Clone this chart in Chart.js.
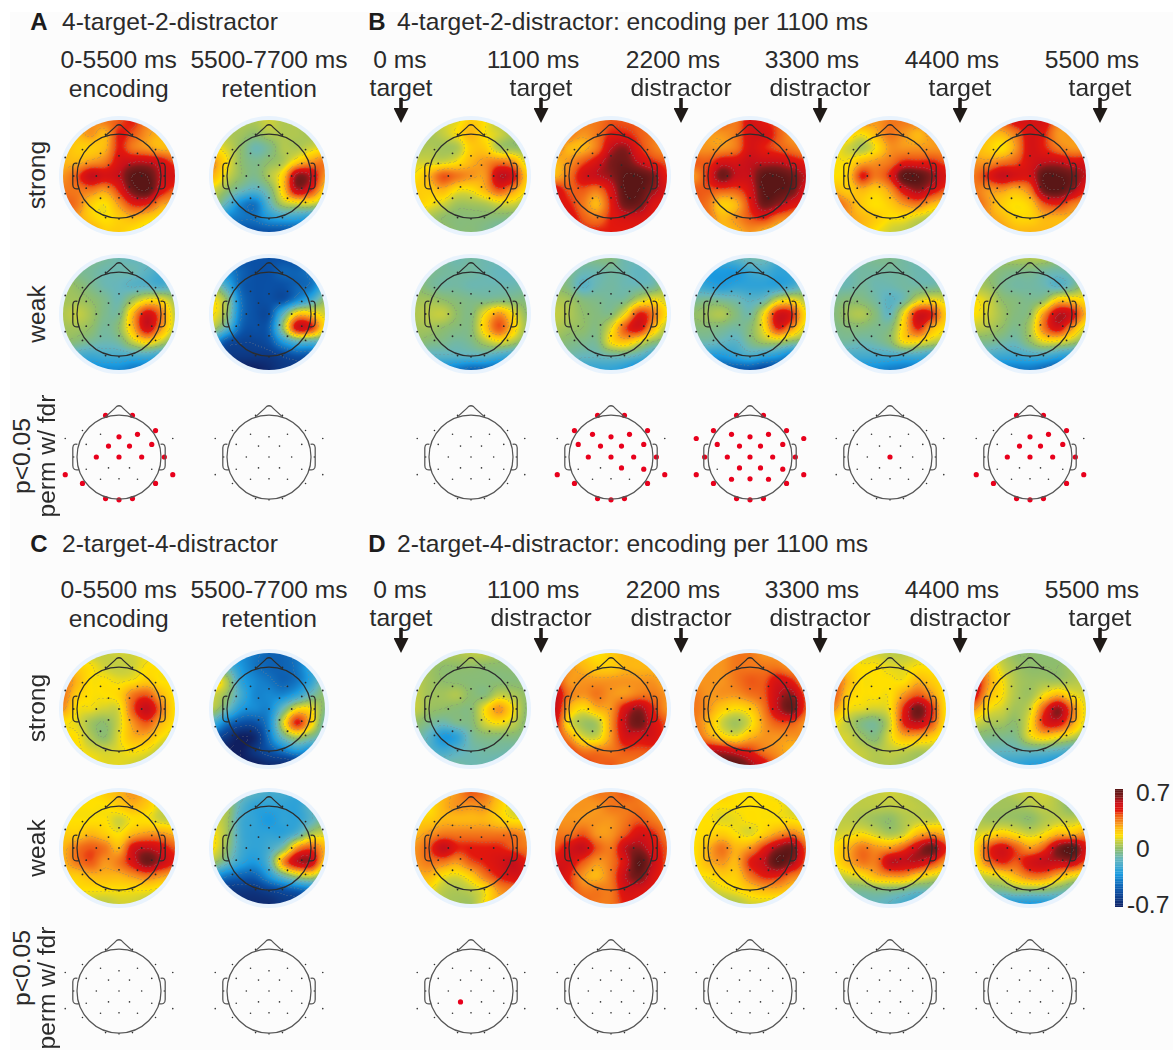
<!DOCTYPE html>
<html>
<head>
<meta charset="utf-8">
<title>topomaps</title>
<script src="https://cdn.jsdelivr.net/npm/chart.js@4"></script>
<style>
  html, body { margin: 0; padding: 0; background: #fff; }
  #page { position: absolute; left: 0; top: 0; width: 1173px; height: 1050px; overflow: hidden; background: #fff; }
  #paper { position: absolute; left: 10px; top: 12px; width: 1163px; height: 1038px; background: #fcfcfc; }
  #page canvas { position: absolute; }
  .t { position: absolute; white-space: nowrap; font-family: "Liberation Sans", Arial, sans-serif; font-size: 24.6px; color: #2a2a2a; transform: translate(-50%, -50%); }
  .l { transform: translate(0, -50%); }
  .b { font-weight: bold; font-size: 24px; color: #1c1c1c; }
  .r { transform: translate(-50%, -50%) rotate(-90deg); }
  .arrow { position: absolute; width: 15px; height: 25px; background: #1f1a17; clip-path: polygon(38% 0, 62% 0, 62% 40%, 100% 40%, 50% 100%, 0 40%, 38% 40%); }
</style>
</head>
<body>
<div id="page"><div id="paper"></div></div>
<script>
// values are in tenths of the colour bar unit (7 = 0.7), 9 rows x 9 columns, front of head first
const gridTicks = [-4/3, -1, -2/3, -1/3, 0, 1/3, 2/3, 1, 4/3];

const aStrongEnc = [
  3,3,3,3.5,4,4.5,3.5,3,3,
  2.5,2.5,3,2.5,4.5,4,3,2.5,2.5,
  2.5,2,2,2.5,4.5,3.5,3,2.5,2.5,
  2.5,2.5,3,3.5,5,5.5,5.5,5,4,
  3,4,5.5,5,5.5,7,7,5.5,5,
  3.5,3.5,3.5,3,4.5,6.5,7,5,4,
  4,3.5,2,1.5,3,4.5,4.5,3,2.5,
  4,3,2,1.5,2,2.5,2,1.5,1,
  4,3.5,3,2,2,1.5,1,.5,.5];
const aStrongRet = [
  .5,.5,.5,.5,1,.5,.5,.3,0,
  1,.5,.3,0,.5,.5,.5,.3,.3,
  1.5,1,0,-1,-.5,.5,.5,1,1.5,
  3,1.5,0,-.5,0,.5,2,3,3.5,
  2.5,1,0,-.5,.5,2,6,5.5,3,
  1,0,-1,-1.5,-.5,2,5.5,4.5,2,
  0,-1.5,-3.5,-4,-1.5,.5,1,1,0,
  -2,-3.5,-4,-4,-3,-2.5,-2.5,-3,-3.5,
  -4,-4.5,-5,-5,-5,-5,-5,-5,-5];
const aWeakEnc = [
  -.5,-.5,-.5,-.7,-1,-1.2,-1,-1,-1,
  0,-.5,-.7,-1,-1,-1,-1.5,-2,-1.5,
  .3,0,-.5,-1,-1.2,-1.5,-1.5,-1.8,-1.2,
  .3,.3,0,-.5,-1,.3,1.5,1.5,.3,
  .5,.8,.3,-.5,-.5,2.5,5,3.5,.8,
  .3,.3,0,-.7,0,2.5,5.2,3,.8,
  0,-.3,-.7,-1,-.7,.8,1.8,.8,-.5,
  -1.5,-2,-2.2,-2,-2,-2,-2,-2.5,-3,
  -3,-3.5,-3.5,-3.5,-3.5,-4,-4,-4,-4];
const aWeakRet = [
  -4,-4.5,-5,-5,-5,-5,-5,-4.5,-4,
  -3,-3.5,-4.5,-5,-5,-4.5,-4.5,-4,-3,
  0,-2,-4.5,-5,-5,-5,-4.5,-4,-2,
  1.5,0,-4,-5,-5,-5,-3.5,-2,0,
  1.5,0,-4,-5,-5,-1.5,2,2,1,
  .5,-1.5,-4.5,-5,-4.5,0,5,4.5,1.5,
  -3,-5,-5.5,-5.5,-5,-3,-1.5,-1.5,-1.5,
  -6,-6,-6,-6,-6,-5.5,-5,-5,-4.5,
  -7,-7,-7,-7,-6.5,-6,-6,-5.5,-5];

const bStrong0 = [
  0,.5,1,1.2,2,1.5,.5,.5,.3,
  0,.3,.8,1.5,2.5,1.5,1,.3,0,
  .3,.5,.3,.5,2,2,.5,.2,0,
  1,1,1,1.5,2.5,3,3.5,3,1,
  1.5,2.5,4,3.5,3,3,5.5,5,2,
  2,2,2.5,1.5,1.5,2.5,4,3,1.5,
  2,1.5,1,.3,.3,.5,1,1,.3,
  1.5,.5,0,-.2,-.2,-.2,-.3,-.5,-1,
  1,.5,.2,-.2,-.2,-.5,-1,-1.5,-2];
const bStrong1 = [
  3.5,3.5,3.5,3.5,4,4,4,3.5,3.5,
  4,3.5,3,3.5,4.5,4.5,4,3.5,3,
  3.5,2.5,2.5,3.5,5.5,6,4.5,3.5,3,
  2.5,3,4,5,6.2,6.5,5.5,4.5,4,
  2.5,3.5,5,5.5,6,7,7,6.3,4.5,
  5,4,4,3.5,5,7,7,6,5,
  5,4.5,3.5,2.5,4.5,6.5,6.5,5,4.5,
  5,5,4,3.5,4.5,5,5,4.5,4,
  5,5,4.5,4.5,4.5,4.5,4.5,4,4];
const bStrong2 = [
  4,4,4,3.5,5,4.5,4,3.5,3.5,
  3.5,3,3,3.5,5,5,4,3,3,
  3,3,3,3.5,5,4.5,4,3.5,3,
  4,4,5,5,5.5,5.5,5.5,5,4.5,
  3,4.5,6.5,5.5,5.5,7,7,6.5,5.5,
  4,4,4,4,5,7,7,6.5,5,
  4,3.5,2,2.5,4.5,6.5,6,5,4.5,
  4,3.5,2.5,3,4,4.5,3.5,3,2.5,
  3.5,3,2.5,2.5,3,2.5,2,1.5,1];
const bStrong3 = [
  3,3,3.5,3,3.5,3.5,3.5,3.5,3,
  2,2,1.5,2.5,3.5,3,2.5,3,3,
  1.5,1,.5,1.5,3,3,3,3,3,
  1.5,1.5,2.5,3,3.5,4.5,4.5,4.5,4,
  1.5,2,4.5,3.5,4.5,7,7,6,5,
  2.5,2,2.5,2,3,5,6,5,4,
  4,3,2,1.5,2,3,3.5,2.5,2,
  4,3,2.5,2,1.5,1.5,1,.5,.3,
  3.5,3,2.5,1.5,1,.7,.3,0,-.3];
const bStrong4 = [
  3.5,3.5,4,5,5,5,3.5,3,3,
  3,2.5,2.5,3.5,5,4.5,3,3,3,
  2.5,2,1.5,3,5,4.5,3.5,3,3,
  3,3,3.5,4,5,5.5,5.5,5,5,
  3.5,4.5,5.5,5,5,7,7,6.5,5.5,
  3.5,3,3,2.5,3.5,6.5,7,6,4.5,
  4,3,2,1.5,2,4,4.5,3.5,3,
  4,3,2.5,1.8,1.8,2.5,2.5,2.5,2,
  3,3,3,2.5,2.5,2.5,2.5,2,2];

const bWeak0 = [
  -.5,-.5,-.7,-1,-.8,-1,-1,-1,-1,
  -.3,-.5,-.7,-.8,-.8,-1,-1.2,-1.2,-1,
  0,-.5,-.8,-.8,-1,-1,-1,-1,-.8,
  .3,.3,0,-.3,-.5,-.5,-.3,-.3,-.3,
  .5,.7,.8,0,-.3,1.5,3,1.5,0,
  .3,.3,0,-.3,-.2,2,4,2,.2,
  0,-.3,-.5,-.8,-.5,.5,1.2,.5,-.5,
  -1,-1.5,-1.5,-1.5,-1.5,-1.5,-2,-2.5,-3,
  -2.5,-3,-3.5,-4,-4.5,-4.5,-4.5,-4.5,-4];
const bWeak1 = [
  -.3,-.5,-.5,-.3,-.3,-1,-1,-1,-.8,
  0,-.5,-1,-1,-.8,-1,-1.3,-1,0,
  0,-.5,-1.5,-1,-.8,-1,-1,-.8,.3,
  .5,.3,-.3,-.5,-.7,-.5,.8,1.5,1,
  .8,.5,0,-.3,-.3,1.5,4.5,3.5,1.5,
  .5,.2,0,-.3,1.2,4,5,2.5,.5,
  0,-.3,-.5,-.5,1.5,2.2,1.2,0,-.5,
  -.8,-1,-1.2,-1.2,-1,-1,-1.5,-2.5,-3.5,
  -2,-2.5,-2.5,-2.5,-2.5,-3,-4,-4.5,-4.5];
const bWeak2 = [
  -1.5,-2,-2,-1.5,-1,-1,-2,-2.5,-2,
  -2.5,-3,-3,-3,-2.2,-2,-2.5,-2.5,-2,
  -2,-2.5,-2.8,-2.5,-2.5,-2.5,-2.5,-2,-1,
  -.7,-.5,-.7,-1,-1.5,-1,1,1.5,.5,
  0,.3,.5,-.3,-.8,1.5,5,4.5,1.5,
  -.3,-.3,-.5,-.8,-.2,1.5,4.5,3,1,
  -1,-1,-1.3,-1.5,-.5,.3,.5,-.2,-.5,
  -2.5,-3,-3,-2.5,-2,-2.5,-3,-4,-4.5,
  -5,-5,-5,-5,-5,-5.5,-5.5,-5.5,-5.5];
const bWeak3 = [
  -1,-1,-.7,-.5,-.5,-.8,-1,-1,-1,
  -1.3,-1,-.8,-.8,-.8,-.8,-1,-1,-1,
  -1,-1,-.7,-1,-1,-.8,-.8,-.8,-.5,
  -.5,-.2,-.3,-.8,-1.5,-.8,1,1.5,1,
  -.3,.3,.5,-.3,-1.2,1.5,5,4.5,2,
  -.5,-.3,-.3,-.5,-.3,2,4.5,2.5,1.5,
  -.8,-.8,-1,-.8,-.2,1.5,1.5,.8,.3,
  -1.5,-2,-2,-2,-2,-2,-2,-2.5,-3,
  -3,-3.5,-3.5,-3.5,-3.8,-4,-4,-4,-4];
const bWeak4 = [
  -.2,.2,.3,.5,.5,.5,0,-.3,-.5,
  .3,0,-.3,-.5,-.5,-.8,-1,-.8,-.5,
  .5,.2,-.5,-.8,-.8,-1,-1.5,-.8,.5,
  1.5,1,0,-.3,-.5,0,2,2,1.5,
  1.5,1,.3,-.3,0,3,5.5,5,2.5,
  .8,.5,0,-.5,.5,3.5,5,3,1,
  -.5,-.5,-.8,-1,0,1.2,1.2,.5,-.5,
  -1.5,-2,-2.2,-2.2,-2,-2,-2.5,-3,-3.5,
  -3.5,-4,-4,-4,-4,-4.5,-5,-5,-5];

const cStrongEnc = [
  1,1,.8,.8,1,1,1.3,1.3,1.2,
  3,2,1.5,1,.8,1,1.5,1.5,1.5,
  3.5,2.5,1.5,1.5,1.3,1.5,2,1.5,1.5,
  3.5,2,1.5,1.5,1.8,3.5,4,2.5,1.5,
  3,1.5,1.3,1,1.2,4,5.5,3.5,1.5,
  1.5,1.2,.3,0,1,3,4,2.5,1.5,
  1.5,1.5,.5,0,1.2,2.5,2.5,1.5,1,
  1.5,1.5,1.2,1,1.2,1.5,1.3,.7,.3,
  1.5,1.5,1.5,1.2,1.2,1,.7,.3,0];
const cStrongRet = [
  -3,-3.5,-3.5,-4,-4.5,-4.5,-4,-3,-2.5,
  -1,-1.5,-3,-4,-4.5,-4.5,-4,-2.5,-1.5,
  2,.5,-2.5,-3.5,-4,-4.5,-4,-2.5,-.5,
  1,0,-2,-3.5,-3.5,-3.5,-2.5,-1,0,
  .5,-1,-3,-3.5,-3.5,-1,1.5,1.5,-.3,
  -2,-4,-5,-5,-3.5,1,4.5,2,-1,
  -5,-6,-7,-6.5,-4,-1,.5,-.5,-1.5,
  -6.5,-7,-7,-6,-5,-4,-3,-3.5,-3,
  -7,-7,-7,-7,-6.5,-6.5,-6.5,-6,-5];
const cWeakEnc = [
  2,2,1.5,2,2.5,3,2.5,1.5,1,
  1.5,1.5,1.5,1.5,2,2.5,2,1,.5,
  1.5,1.5,1.5,1.5,1,1.5,1.5,1,.8,
  2,2,2.5,2,1.5,2.5,3,3,2.5,
  2.5,3.5,4,3.5,2.5,5,5.5,5,4,
  2.5,3.5,4,3,3.5,5,6.5,5.5,4.5,
  2,2,2.5,2.5,2.5,3,3.5,3,2.5,
  1,1.5,1.5,1.5,1.5,1.5,1.5,1.2,1,
  .5,.5,.8,.7,1,1,.7,.5,.3];
const cWeakRet = [
  -.5,-.8,-1,-1.5,-2,-2,-2.5,-2.5,-2,
  .5,.3,-1.5,-2.5,-2.5,-2.5,-2.5,-1.5,-.5,
  1,.3,-2,-2.5,-3,-2.5,-2.5,-1.5,-.3,
  1.5,.3,-2,-2.5,-2.5,-2.5,-1.5,.5,1,
  1.5,0,-2,-2.5,-2,-.5,3,4,2.5,
  .3,-1,-2.5,-3,-1.5,3,5.5,5.5,2,
  -3,-4,-4.5,-4.5,-3,-1,.5,1,-.5,
  -5.5,-6,-6,-6,-5.5,-5,-4.5,-4,-4,
  -6.5,-6.5,-6.5,-6.5,-6.5,-6,-6,-5.5,-5];

const dStrong0 = [
  .5,.5,.5,.5,.7,.7,.3,0,0,
  .7,.3,0,0,0,-.1,-.1,-.1,-.2,
  .7,.3,0,-.1,-.2,-.2,-.2,-.2,-.2,
  .8,.3,.3,.5,-.1,-.2,.8,.5,0,
  .8,.2,0,-.2,-.2,1.5,3,1.5,-.1,
  0,-.5,-1,-.5,-.3,1,1.5,.8,-.2,
  -.5,-1.5,-3,-2.5,-.8,-.3,-.3,-.3,-.5,
  -.5,-1.5,-2,-1.5,-1,-.8,-.8,-1,-1.2,
  -.5,-.7,-.8,-.8,-1,-1,-1.3,-1.5,-1.8];
const dStrong1 = [
  2.5,2.5,2,1.5,2,2.5,2.5,2.5,2.5,
  3.5,3,2.5,2,2,2.5,2.5,2.5,2.5,
  4.5,3,3,3,3,3,3,3,2.5,
  5.5,3.5,3,3.5,3,3,3.5,3.5,3,
  5.5,2.5,1.5,2.5,3,5,6,4.5,3,
  5,1.5,.3,.5,3,5.5,6.5,5,4,
  4.5,3,1.2,1,3,5,5,5,4,
  5,4.5,3.5,3.5,3.5,4,4,4,3.5,
  5,5,4.5,4,4,3.5,3.5,3.5,3];
const dStrong2 = [
  2.5,3,3,3.5,3.5,3,3,2.5,2.5,
  3,3,3,3.5,3.5,3.5,3.5,3,3,
  3,3,3,3.5,4,4,5,4.5,3,
  3.5,3,3,3,3.5,4,5.5,6,4,
  3.5,3,2,1.5,2,3.5,5.5,6.5,4,
  3.5,2.5,1,.3,1.2,3,4,4,3,
  4,3,2,1.5,2.5,3,3,3,3,
  5,5.5,5.5,5,4.5,3.5,3,2.5,2.5,
  5,6,7,7,6,5,3.5,3,2.5];
const dStrong3 = [
  1,1,1,1,.7,.7,1,1,1,
  3,2,1.5,1.5,1.2,1.2,1.5,1.5,2,
  4,2.5,1.5,1.5,1.5,1.5,2.5,2,1.5,
  4,2,1.5,1.5,1.5,3,4,3,1.5,
  3,1.5,1.2,1,1.5,4.5,6.5,4.5,1.5,
  1.5,.7,-.3,-.5,1,4.5,5.5,4,1.5,
  1,1,.2,-.2,1.2,2.5,2.5,2,1,
  1,1,.8,.5,.8,.8,.5,.5,.2,
  1,1,.8,.5,.5,.3,.2,0,-.2];
const dStrong4 = [
  1,.8,.5,0,0,-.1,0,.2,.3,
  4,2.5,1,.3,0,0,0,.3,.5,
  5.5,3,1.5,.5,.2,.3,.3,.5,.7,
  5,2.5,1.5,.5,.3,1.5,2.5,1.5,1,
  3,1.5,1,.3,1,4,6,3.5,1.2,
  1,.5,.3,0,1.5,4.5,5,3,1,
  -.2,-.4,-.5,-.4,1.2,2,1.5,.8,0,
  -1,-1.2,-1.3,-1.3,-1.2,-1.2,-1.5,-2,-2.5,
  -1.5,-2,-2.5,-2.5,-2.8,-3,-3.5,-3.5,-3];

const dWeak0 = [
  2,2,2.5,3,4,3.5,2.5,1.5,1,
  1.5,1.5,2.5,3,3,3,2,1,.7,
  2,2,2.5,2.5,2.5,2.5,2,1.5,1.5,
  2.5,3,3.5,3.5,3.5,3.5,3.5,3.5,3,
  3,4,5.5,4.5,4.5,4.5,4.5,4,3.5,
  3,3.5,3.5,3,4,4.5,5,5.5,4.5,
  2.5,2.5,1.5,1.2,2,3.5,4.5,5,5,
  2,1.5,.7,.5,.8,1.5,3,3.5,4,
  1.8,1.2,.5,.3,.3,1.5,2.5,2.5,3];
const dWeak1 = [
  3,3,3,3.5,3.5,4,3.5,3,3,
  3,3,3,3,3.5,3.5,3.5,3,2.5,
  3,3,3,3,3,3.5,4,3.5,3,
  3.5,3.5,4,3,3,4,5,4.5,3.5,
  4,5,5.5,4,3.5,5.5,6,5,4,
  5,5,4,3,3.5,5,7,5.5,4,
  5.5,4.5,3,2.5,3.5,5.5,6.5,5,4,
  5,4.5,3.5,3.5,3.5,5,5,4.5,4,
  4,4.5,4,3.5,3.5,4.5,4.5,3.5,3];
const dWeak2 = [
  1.5,1.5,2,1.5,1.5,1.5,1.2,.7,.3,
  1.5,1.5,1.5,1.5,1.5,1.5,1.5,1,.5,
  1.5,1.5,1.2,1.3,1.5,1.5,1.5,1.5,1.2,
  1.5,1.7,2,1.5,1.2,2,3,3.5,2.5,
  1.5,2.5,3.5,2.5,3,4.5,6,6.5,4,
  1.5,2.5,3,2.5,4.5,5.5,7,6,4,
  1.5,1.5,2,2,3.5,4.5,4.5,3.5,3,
  .7,.8,1.2,1.5,2,2.5,2.5,2,1.5,
  0,.2,.3,.5,1,1,.8,.5,.5];
const dWeak3 = [
  .8,.5,.7,.8,1,.8,.5,.3,.2,
  .8,.7,.7,.7,.7,.8,.7,.5,.3,
  .7,.7,.5,.2,0,.5,.8,.8,1,
  1,1.2,1.5,1,.5,1,2.5,3,2.5,
  1.5,2.5,3.5,3,3,4,5.5,6.5,4.5,
  1.5,2.5,3.5,3.5,5.5,5.5,5.5,4.5,3,
  .7,1,1.5,2.5,3,3,2,1.2,.7,
  -.5,-.5,-.5,-.3,-.3,-.5,-1,-1,-1.5,
  -1.2,-1.2,-1.2,-1.2,-1.5,-2,-2.5,-2.5,-2];
const dWeak4 = [
  .5,.5,.3,.7,1,1,.5,-.3,-.5,
  .3,.3,.3,.3,.5,.8,.5,-.2,-.3,
  .5,.3,.3,.2,0,.5,.8,.8,1,
  1,1.5,2,1.5,1,1.5,2.5,2.5,3,
  1.5,4,5,4,3,4,6.2,7,5,
  1.5,3.5,4.5,4,5,5.5,5.5,5.5,4,
  .7,1,1.5,2.5,3.5,3.5,2.5,1.5,1,
  -.3,-.5,-.5,0,0,0,-.5,-1,-1.5,
  -1.5,-2.5,-3,-3,-3,-3,-2.5,-2,-1.5];

// electrode positions, head radius = 1
const sensorX = [-.32,.32,-.87,.87,-.44,0,.44,-1.28,1.28,-.78,-.25,.25,.78,-1.08,-.54,0,.54,1.08,-.78,-.25,.25,.78,-1.28,1.28,-.44,0,.44,-.87,.87,-.32,0,.32];
const sensorY = [.99,.99,.63,.63,.54,.48,.54,.44,.44,.3,.26,.26,.3,0,0,0,0,0,-.29,-.26,-.26,-.29,-.42,-.42,-.53,-.52,-.53,-.63,-.63,-.99,-1.02,-.99];

// electrodes with p<0.05
const sigAEnc = [0,1,3,5,6,10,11,12,14,15,16,17,22,23,27,28,29,30,31];
const sigB1 = [0,1,2,3,4,5,6,9,10,11,12,14,15,16,17,20,21,22,23,27,28,29,30,31];
const sigB2 = [0,1,2,3,4,5,6,7,8,9,10,11,12,13,14,15,16,17,19,20,21,22,23,24,25,26,27,28,29,30,31];
const sigB3 = [15];
const sigB4 = [0,1,3,5,6,10,11,12,14,15,16,17,22,23,27,28,29,30,31];
const sigD0 = [19];

const barLabels = ['0.7', '0', '-0.7'];
const barStops = [-7,-5,-3,-1.2,0,1,1.5,2.5,3,4,4.5,5.5,6.2,7];
const barColors = ['#101f60','#0a50a5','#1b9be0','#66b6bd','#8fbd6a','#cfd138','#ffe000','#fdb712','#f7941d','#ee5a16','#e3170d','#c8101a','#7d1a1a','#5a1616'];

const columns = [118.7, 269, 471, 610.7, 750, 890, 1030];
const topRows = [175.8, 313.8, 456.7];
const bottomRows = [708.5, 848, 990.7];
const boxSize = 132;
const unitsAcross = boxSize / 42;

const stopRgb = barColors.map((c) => [1, 3, 5].map((i) => parseInt(c.substr(i, 2), 16)));

function rgbFor(v) {
  if (v <= barStops[0]) return stopRgb[0];
  for (let i = 1; i < barStops.length; i++) {
    if (v <= barStops[i]) {
      const f = (v - barStops[i - 1]) / (barStops[i] - barStops[i - 1]);
      return stopRgb[i].map((c, k) => stopRgb[i - 1][k] + (c - stopRgb[i - 1][k]) * f);
    }
  }
  return stopRgb[stopRgb.length - 1];
}

function cr(a, b, c, d, t) {
  return b + 0.5 * t * (c - a + t * (2 * a - 5 * b + 4 * c - d + t * (3 * (b - c) + d - a)));
}

function sample(vals, u, v) {
  u = Math.max(0, Math.min(7.999, u));
  v = Math.max(0, Math.min(7.999, v));
  const iu = Math.floor(u), iv = Math.floor(v);
  const at = (c, r) => vals[Math.max(0, Math.min(8, r)) * 9 + Math.max(0, Math.min(8, c))];
  const col = [];
  for (let r = -1; r < 3; r++) {
    col.push(cr(at(iu - 1, iv + r), at(iu, iv + r), at(iu + 1, iv + r), at(iu + 2, iv + r), u - iu));
  }
  return cr(col[0], col[1], col[2], col[3], v - iv);
}

function drawHead(chart) {
  const x = chart.scales.x, y = chart.scales.y;
  const ctx = chart.ctx;
  const px = (v) => x.getPixelForValue(v), py = (v) => y.getPixelForValue(v);
  ctx.save();
  ctx.strokeStyle = chart.options.plugins.topo.line;
  ctx.lineWidth = 1.25;
  ctx.beginPath();
  ctx.arc(px(0), py(0), px(1) - px(0), 0, Math.PI * 2);
  ctx.stroke();
  // nose
  ctx.beginPath();
  ctx.moveTo(px(-.33), py(.95));
  ctx.quadraticCurveTo(px(-.14), py(1.12), px(-.06), py(1.2));
  ctx.quadraticCurveTo(px(0), py(1.24), px(.06), py(1.2));
  ctx.quadraticCurveTo(px(.14), py(1.12), px(.33), py(.95));
  ctx.stroke();
  // ears
  [-1, 1].forEach((s) => {
    ctx.beginPath();
    ctx.moveTo(px(s * .99), py(.3));
    ctx.quadraticCurveTo(px(s * 1.09), py(.33), px(s * 1.1), py(.22));
    ctx.lineTo(px(s * 1.1), py(-.2));
    ctx.quadraticCurveTo(px(s * 1.1), py(-.33), px(s * .95), py(-.3));
    ctx.stroke();
  });
  ctx.restore();
}

// paints the cell dataset as a smooth map, positions come from the chart elements
const topoPlugin = {
  id: 'topo',
  beforeDraw(chart) {
    if (!chart.options.plugins.topo.halo) return;
    const x = chart.scales.x, y = chart.scales.y;
    const ctx = chart.ctx;
    ctx.save();
    ctx.fillStyle = '#e9f3fd';
    ctx.beginPath();
    ctx.arc(x.getPixelForValue(0), y.getPixelForValue(0), (x.getPixelForValue(1) - x.getPixelForValue(0)) * 1.43, 0, Math.PI * 2);
    ctx.fill();
    ctx.restore();
  },
  beforeDatasetDraw(chart, args) {
    if (chart.data.datasets[args.index].label !== 'cells') return;
    const meta = args.meta.data;
    const vals = chart.data.datasets[args.index].data.map((d) => d.v);
    const x0 = meta[0].x, dx = meta[1].x - meta[0].x;
    const y0 = meta[0].y, dy = meta[9].y - meta[0].y;
    const w = chart.width, h = chart.height;
    const field = new Float32Array(w * h);
    for (let py = 0; py < h; py++) {
      for (let px = 0; px < w; px++) {
        field[py * w + px] = sample(vals, (px + 0.5 - x0) / dx, (py + 0.5 - y0) / dy);
      }
    }
    const off = document.createElement('canvas');
    off.width = w; off.height = h;
    const octx = off.getContext('2d');
    const img = octx.createImageData(w, h);
    const step = 1.4;
    for (let py = 0; py < h; py++) {
      for (let px = 0; px < w; px++) {
        const i = py * w + px;
        const v = field[i];
        let c = rgbFor(v);
        // faint dotted contours
        if (px < w - 1 && py < h - 1 && (px + py) % 4 < 2) {
          const b = Math.floor(v / step);
          if (b !== Math.floor(field[i + 1] / step) || b !== Math.floor(field[i + w] / step)) {
            c = c.map((k) => k * 0.72 + 130 * 0.28);
          }
        }
        img.data[i * 4] = c[0]; img.data[i * 4 + 1] = c[1]; img.data[i * 4 + 2] = c[2]; img.data[i * 4 + 3] = 255;
      }
    }
    octx.putImageData(img, 0, 0);
    const ctx = chart.ctx;
    ctx.save();
    ctx.beginPath();
    ctx.arc(meta[40].x, meta[40].y, meta[8].x - meta[40].x, 0, Math.PI * 2);
    ctx.clip();
    ctx.drawImage(off, 0, 0);
    ctx.restore();
    return false;
  },
  afterDatasetsDraw(chart) {
    drawHead(chart);
  }
};

function newBox(cx, cy) {
  const c = document.createElement('canvas');
  c.width = boxSize; c.height = boxSize;
  c.style.left = (cx - boxSize / 2) + 'px';
  c.style.top = (cy - boxSize / 2) + 'px';
  document.getElementById('page').appendChild(c);
  return c;
}

const noPad = { padding: 0, autoPadding: false };
function axes() {
  const hidden = { type: 'linear', display: false, min: -unitsAcross / 2, max: unitsAcross / 2 };
  return { x: hidden, y: { ...hidden } };
}

function sensorData(list) {
  return list.map((i) => ({ x: sensorX[i], y: sensorY[i] }));
}

function drawColourMap(cx, cy, vals) {
  const cells = [];
  vals.forEach((v, i) => {
    cells.push({ x: gridTicks[i % 9], y: gridTicks[8 - Math.floor(i / 9)], v: v });
  });
  new Chart(newBox(cx, cy), {
    type: 'scatter',
    data: {
      datasets: [
        { label: 'sensors', data: sensorData(sensorX.map((_, i) => i)), pointRadius: 0.9, borderWidth: 0, backgroundColor: '#2b2b2b', order: 0 },
        { label: 'cells', data: cells, pointRadius: 0, order: 1 }
      ]
    },
    options: {
      responsive: false, animation: false, events: [],
      layout: noPad, scales: axes(),
      plugins: { legend: { display: false }, tooltip: { enabled: false }, topo: { halo: true, line: '#2c2c2c' } }
    },
    plugins: [topoPlugin]
  });
}

function drawPvalueMap(cx, cy, sig) {
  const rest = sensorX.map((_, i) => i).filter((i) => !sig.includes(i));
  new Chart(newBox(cx, cy), {
    type: 'scatter',
    data: {
      datasets: [
        { label: 'sensors', data: sensorData(rest), pointRadius: 0.8, borderWidth: 0, backgroundColor: '#333' },
        { label: 'p<0.05', data: sensorData(sig), pointRadius: 2.6, borderWidth: 0, backgroundColor: '#e8001c' }
      ]
    },
    options: {
      responsive: false, animation: false, events: [],
      layout: noPad, scales: axes(),
      plugins: { legend: { display: false }, tooltip: { enabled: false }, topo: { halo: false, line: '#555' } }
    },
    plugins: [topoPlugin]
  });
}

function drawRows(rows, strong, weak, sig) {
  strong.forEach((m, i) => drawColourMap(columns[i], rows[0], m));
  weak.forEach((m, i) => drawColourMap(columns[i], rows[1], m));
  sig.forEach((m, i) => drawPvalueMap(columns[i], rows[2], m));
}

drawRows(topRows,
  [aStrongEnc, aStrongRet, bStrong0, bStrong1, bStrong2, bStrong3, bStrong4],
  [aWeakEnc, aWeakRet, bWeak0, bWeak1, bWeak2, bWeak3, bWeak4],
  [sigAEnc, [], [], sigB1, sigB2, sigB3, sigB4]);
drawRows(bottomRows,
  [cStrongEnc, cStrongRet, dStrong0, dStrong1, dStrong2, dStrong3, dStrong4],
  [cWeakEnc, cWeakRet, dWeak0, dWeak1, dWeak2, dWeak3, dWeak4],
  [[], [], sigD0, [], [], [], []]);

// colour bar
const barLevels = [];
for (let v = 7; v > -7; v -= 0.2) barLevels.push(v.toFixed(1));
const barCanvas = document.createElement('canvas');
barCanvas.width = 8; barCanvas.height = 118;
barCanvas.style.left = '1115px'; barCanvas.style.top = '789px';
document.getElementById('page').appendChild(barCanvas);
new Chart(barCanvas, {
  type: 'bar',
  data: {
    labels: barLevels,
    datasets: [{
      data: barLevels.map(() => 1),
      backgroundColor: barLevels.map((v) => 'rgb(' + rgbFor(+v).map(Math.round).join(',') + ')'),
      barPercentage: 1.1, categoryPercentage: 1, borderWidth: 0
    }]
  },
  options: {
    indexAxis: 'y', responsive: false, animation: false, events: [],
    layout: noPad,
    scales: { x: { display: false, min: 0, max: 1 }, y: { display: false } },
    plugins: { legend: { display: false }, tooltip: { enabled: false } }
  }
});

// text
function addText(s, x, y, cls) {
  const d = document.createElement('span');
  d.className = 't ' + (cls || '');
  d.textContent = s;
  d.style.left = x + 'px';
  d.style.top = y + 'px';
  document.getElementById('page').appendChild(d);
}

function addArrow(x, y) {
  const d = document.createElement('div');
  d.className = 'arrow';
  d.style.left = (x - 7.5) + 'px';
  d.style.top = y + 'px';
  document.getElementById('page').appendChild(d);
}

const timeNames = ['0 ms', '1100 ms', '2200 ms', '3300 ms', '4400 ms', '5500 ms'];
const timeX = [400, 533, 673, 812, 952, 1092];
const arrowX = [401, 541, 681, 820, 960, 1100];
const eventsB = ['target', 'target', 'distractor', 'distractor', 'target', 'target'];
const eventsD = ['target', 'distractor', 'distractor', 'distractor', 'distractor', 'target'];

function drawPanelText(letters, titles, events, titleY, top) {
  addText(letters[0], 39, titleY, 'b');
  addText(titles[0], 62, titleY, 'l');
  addText(letters[1], 377, titleY, 'b');
  addText(titles[1], 397, titleY, 'l');
  addText('0-5500 ms', columns[0], top + 60);
  addText('encoding', columns[0], top + 89);
  addText('5500-7700 ms', columns[1], top + 60);
  addText('retention', columns[1], top + 89);
  timeNames.forEach((n, i) => {
    addText(n, timeX[i], top + 60);
    addText(events[i], arrowX[i], top + 88);
    addArrow(arrowX[i], top + 98);
  });
}

drawPanelText(['A', 'B'], ['4-target-2-distractor', '4-target-2-distractor: encoding per 1100 ms'], eventsB, 22, 0);
drawPanelText(['C', 'D'], ['2-target-4-distractor', '2-target-4-distractor: encoding per 1100 ms'], eventsD, 544, 530);

addText('strong', 37, 175, 'r');
addText('weak', 37, 314, 'r');
addText('p<0.05', 22, 456, 'r');
addText('perm w/ fdr', 47, 456, 'r');
addText('strong', 37, 708, 'r');
addText('weak', 37, 848, 'r');
addText('p<0.05', 22, 968, 'r');
addText('perm w/ fdr', 47, 988, 'r');

addText(barLabels[0], 1136, 793, 'l');
addText(barLabels[1], 1136, 849, 'l');
addText(barLabels[2], 1127, 905, 'l');
</script>
</body>
</html>
